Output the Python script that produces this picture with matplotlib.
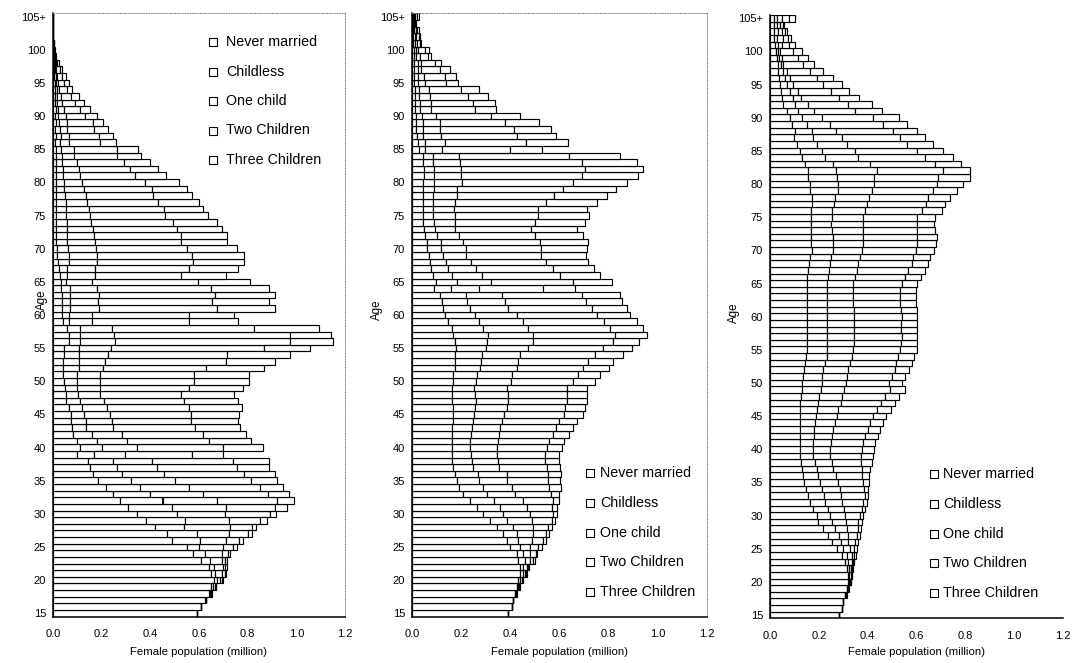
import matplotlib
matplotlib.use('Agg')
import matplotlib.pyplot as plt
from matplotlib.patches import Rectangle
import numpy as np

plt.rcParams['font.family'] = ['Liberation Sans', 'DejaVu Sans']

# ---------------- data ----------------
ages = list(range(15, 106))
categories = ['Never married', 'Childless', 'One child', 'Two Children', 'Three Children']
age_ticks = list(range(15, 106, 5))
age_tick_labels = [str(a) for a in age_ticks[:-1]] + ['105+']
x_ticks = [0.0, 0.2, 0.4, 0.6, 0.8, 1.0, 1.2]
x_tick_labels = ['0.0', '0.2', '0.4', '0.6', '0.8', '1.0', '1.2']
x_label = 'Female population (million)'
y_label = 'Age'

# Panel 1 (ages 15..105)
p1_never = [.59, .61, .625, .64, .65, .66, .65, .64, .61, .575,
            .55, .49, .467, .42, .382, .344, .31, .275, .245, .218,
            .186, .163, .152, .145, .10, .111, .097, .084, .077, .076,
            .072, .065, .054, .052, .049, .045, .042, .042, .042, .045,
            .045, .065, .065, .058, .04, .035, .035, .035, .035, .034,
            .031, .028, .024, .02, .018, .015, .014, .014, .014, .014,
            .014, .011, .014, .011, .014, .011, .011, .014, .011, .011,
            .011, .008, .011, .008, .011, .008, .011, .008, .008, .007,
            .007, .005, .004, .004, .003, .002, .001, .001, .001, .001,
            .001]
p1_childless = [0, 0, .005, .005, .007, .013, .015, .02, .035, .05,
                .05, .115, .126, .12, .16, .167, .178, .175, .154, .14,
                .133, .119, .11, .10, .07, .089, .082, .075, .06, .061,
                .054, .054, .059, .05, .05, .054, .057, .064, .064, .061,
                .061, .045, .044, .051, .025, .03, .034, .034, .034, .034,
                .021, .03, .034, .045, .047, .047, .044, .044, .042, .042,
                .04, .041, .038, .038, .033, .034, .031, .028, .027, .024,
                .02, .019, .02, .02, .013, .012, .009, .01, .01, .008,
                .005, .006, .004, .003, .002, .001, .001, 0, 0, 0,
                0]
p1_one = [0, 0, 0, .003, .007, .013, .03, .037, .048, .068,
          .10, .106, .132, .187, .183, .196, .223, .223, .216, .202,
          .182, .174, .164, .16, .126, .144, .126, .123, .108, .107,
          .109, .102, .095, .092, .095, .095, .095, .099, .108, .118,
          .133, .145, .142, .133, .095, .095, .118, .116, .118, .112,
          .108, .113, .116, .115, .115, .116, .113, .109, .108, .10,
          .099, .095, .088, .088, .079, .074, .067, .064, .061, .053,
          .054, .038, .034, .03, .034, .032, .025, .02, .013, .009,
          .008, .007, .006, .004, .002, .001, .001, 0, 0, 0,
          0]
p1_two = [0, 0, 0, .002, .004, .007, .01, .01, .014, .027,
          .04, .055, .078, .091, .124, .185, .201, .249, .27, .29,
          .311, .329, .329, .333, .274, .353, .337, .333, .339, .323,
          .332, .339, .332, .332, .366, .387, .387, .423, .496, .492,
          .627, .719, .723, .583, .40, .398, .488, .47, .479, .471,
          .434, .355, .386, .394, .391, .372, .355, .357, .345, .337,
          .308, .308, .291, .274, .282, .258, .227, .21, .194, .177,
          .177, .129, .126, .109, .106, .081, .068, .054, .044, .034,
          .025, .017, .013, .007, .003, .002, .001, 0, 0, 0,
          0]
p1_three = [0, 0, 0, .002, .002, .004, .005, .007, .009, .007,
            .015, .014, .013, .018, .029, .024, .051, .068, .086, .097,
            .11, .127, .134, .151, .127, .167, .17, .178, .186, .194,
            .197, .217, .221, .218, .22, .224, .224, .238, .203, .258,
            .19, .176, .17, .267, .20, .186, .238, .231, .247, .238,
            .217, .184, .201, .21, .213, .207, .19, .192, .187, .183,
            .178, .162, .167, .16, .143, .14, .127, .115, .107, .096,
            .088, .064, .057, .058, .04, .047, .04, .034, .031, .021,
            .02, .017, .011, .006, .003, .002, .001, .001, .001, 0,
            .001]

# Panel 2
p2_never = [.39, .405, .41, .419, .426, .433, .439, .439, .433, .426,
            .399, .385, .372, .344, .317, .29, .263, .236, .209, .192,
            .182, .175, .165, .161, .161, .161, .161, .161, .161, .165,
            .165, .165, .163, .161, .161, .168, .168, .175, .175, .175,
            .179, .175, .168, .161, .148, .134, .125, .121, .115, .088,
            .096, .085, .076, .072, .068, .062, .06, .053, .049, .046,
            .046, .043, .043, .043, .043, .043, .049, .049, .046, .046,
            .03, .024, .02, .018, .018, .018, .011, .011, .011, .011,
            .008, .008, .008, .008, .008, .008, .004, .004, .003, .002,
            .003]
p2_childless = [0, 0, .002, .001, .004, .006, .011, .014, .027, .027,
                .041, .048, .054, .068, .068, .082, .095, .098, .095, .095,
                .092, .095, .082, .082, .078, .075, .075, .078, .082, .082,
                .087, .091, .097, .095, .091, .092, .095, .102, .104, .108,
                .122, .131, .142, .129, .126, .122, .111, .101, .106, .072,
                .089, .079, .071, .068, .058, .057, .057, .05, .045, .045,
                .041, .044, .044, .044, .048, .048, .042, .042, .038, .038,
                .023, .028, .025, .027, .027, .024, .02, .02, .017, .017,
                .016, .016, .016, .016, .01, .007, .007, .007, .005, .003,
                .005]
p2_one = [0, 0, 0, .002, .004, .007, .01, .013, .02, .027,
          .04, .054, .067, .081, .102, .108, .108, .119, .115, .118,
          .114, .115, .108, .108, .108, .111, .115, .116, .115, .118,
          .122, .129, .132, .136, .136, .141, .142, .151, .154, .156,
          .172, .185, .184, .183, .179, .17, .156, .156, .147, .113,
          .135, .122, .115, .101, .095, .099, .092, .09, .081, .084,
          .088, .084, .088, .095, .093, .111, .107, .107, .111, .109,
          .068, .081, .074, .07, .068, .057, .048, .048, .044, .04,
          .028, .023, .014, .014, .013, .009, .009, .007, .007, .004,
          .006]
p2_two = [0, 0, 0, .002, .002, .004, .004, .007, .014, .024,
          .034, .044, .052, .062, .081, .092, .102, .119, .145, .154,
          .167, .17, .193, .19, .194, .201, .208, .22, .228, .234,
          .244, .237, .237, .237, .241, .255, .272, .266, .284, .305,
          .305, .325, .332, .332, .328, .325, .339, .33, .325, .26,
          .335, .315, .312, .303, .305, .308, .312, .307, .308, .325,
          .339, .343, .37, .396, .429, .452, .492, .506, .495, .447,
          .278, .332, .308, .299, .264, .224, .176, .169, .156, .132,
          .085, .086, .075, .054, .034, .028, .011, .01, .007, .005,
          .008]
p2_three = [0, 0, 0, .002, .002, .003, .002, .004, .006, .006,
            .013, .014, .014, .013, .014, .016, .023, .027, .035, .046,
            .047, .05, .054, .058, .058, .061, .059, .065, .068, .071,
            .076, .082, .084, .084, .084, .088, .088, .109, .102, .113,
            .118, .109, .131, .135, .133, .136, .144, .145, .152, .129,
            .16, .162, .166, .17, .182, .184, .196, .197, .19, .204,
            .207, .199, .209, .214, .217, .222, .23, .237, .224, .206,
            .131, .17, .16, .153, .139, .115, .088, .088, .081, .071,
            .05, .047, .04, .027, .011, .017, .007, .006, .006, .004,
            .006]

# Panel 3
p3_never = [.282, .293, .30, .307, .314, .318, .318, .314, .307, .293,
            .273, .252, .239, .218, .198, .191, .177, .164, .154, .146,
            .141, .136, .132, .127, .123, .123, .123, .123, .123, .123,
            .123, .123, .123, .127, .132, .132, .136, .141, .143, .146,
            .15, .15, .15, .15, .15, .15, .15, .15, .15, .15,
            .15, .15, .154, .16, .164, .171, .168, .168, .168, .168,
            .168, .168, .171, .171, .164, .164, .157, .154, .143, .132,
            .123, .109, .10, .102, .089, .082, .068, .055, .048, .045,
            .041, .037, .034, .031, .027, .023, .02, .018, .018, .015,
            .018]
p3_childless = [0, 0, 0, .002, .003, .005, .007, .009, .014, .021,
                .027, .039, .043, .048, .054, .055, .062, .061, .068, .068,
                .064, .059, .059, .057, .054, .054, .054, .058, .058, .061,
                .064, .068, .072, .074, .077, .079, .078, .077, .082, .086,
                .082, .082, .082, .082, .082, .082, .082, .082, .082, .082,
                .082, .089, .087, .086, .086, .088, .091, .091, .084, .082,
                .084, .087, .092, .095, .113, .113, .116, .115, .116, .093,
                .088, .082, .077, .069, .061, .048, .048, .047, .047, .037,
                .027, .024, .021, .014, .01, .008, .011, .009, .016, .012,
                .009]
p3_one = [0, 0, 0, .002, .002, .004, .005, .009, .013, .02,
          .027, .03, .039, .048, .058, .061, .065, .071, .069, .072,
          .075, .074, .068, .068, .069, .069, .073, .071, .078, .082,
          .086, .089, .096, .095, .095, .099, .10, .103, .102, .102,
          .109, .113, .113, .113, .113, .113, .113, .109, .109, .109,
          .109, .109, .114, .116, .118, .119, .123, .123, .13, .132,
          .13, .134, .133, .139, .139, .15, .154, .168, .15, .137,
          .137, .123, .116, .098, .096, .084, .065, .055, .032, .031,
          .027, .021, .013, .01, .011, .01, .017, .028, .014, .014,
          .021]
p3_two = [0, 0, 0, .002, .002, .003, .004, .005, .007, .011,
          .018, .027, .034, .045, .052, .061, .071, .086, .098, .10,
          .102, .106, .116, .12, .126, .129, .132, .137, .141, .143,
          .15, .157, .163, .177, .187, .177, .184, .191, .191, .191,
          .191, .191, .194, .191, .191, .194, .191, .191, .191, .191,
          .198, .205, .211, .218, .219, .22, .218, .218, .218, .218,
          .218, .232, .241, .243, .252, .259, .262, .272, .266, .272,
          .252, .249, .239, .233, .218, .209, .167, .164, .157, .137,
          .123, .109, .096, .081, .068, .054, .03, .02, .013, .014,
          .03]
p3_three = [0, 0, 0, .001, .002, .002, .003, .004, .004, .006,
            .01, .011, .013, .013, .013, .014, .014, .014, .011, .016,
            .023, .032, .034, .044, .051, .052, .05, .052, .05, .055,
            .054, .058, .058, .055, .062, .055, .055, .057, .062, .066,
            .068, .064, .061, .064, .064, .065, .068, .064, .064, .064,
            .061, .065, .068, .068, .068, .075, .078, .082, .075, .073,
            .075, .082, .079, .089, .096, .105, .13, .11, .109, .116,
            .109, .105, .102, .098, .099, .105, .109, .095, .082, .075,
            .075, .068, .054, .045, .038, .037, .024, .011, .007, .004,
            .024]

panels = [
    [p1_never, p1_childless, p1_one, p1_two, p1_three],
    [p2_never, p2_childless, p2_one, p2_two, p2_three],
    [p3_never, p3_childless, p3_one, p3_two, p3_three],
]

# ---------------- layout (pixels) ----------------
W, H = 1074, 663
fig = plt.figure(figsize=(W / 100, H / 100), dpi=100)

# (left, right, top, bottom) of each axes in pixels
boxes = [(53, 345, 13.4, 616.6), (412, 707, 13.4, 616.6), (770, 1063, 15.0, 618.3)]
frame_style = ['dotted', 'dotted', None]
legend_pos = [  # marker left x, text x, first row y, row step
    (209, 226, 42, 29.5),
    (586, 600, 473, 29.8),
    (930, 943, 474, 29.8),
]
age_label_pos = [(42, 300), (377, 310), (734, 313)]
xlabel_pad = [6, 6, 4.5]

for i, (l, r, t, b) in enumerate(boxes):
    ax = fig.add_axes([l / W, 1 - b / H, (r - l) / W, (b - t) / H])
    cum = np.zeros(len(ages))
    for series in panels[i]:
        vals = np.array(series, dtype=float)
        ax.barh(ages, vals, left=cum, height=1.0, color='white',
                edgecolor='black', linewidth=0.85)
        cum = cum + vals
    ax.set_xlim(0, 1.2)
    ax.set_ylim(14.5, 105.5)
    ax.set_xticks(x_ticks)
    ax.set_xticklabels(x_tick_labels, fontsize=8)
    ax.set_yticks(age_ticks)
    ax.set_yticklabels(age_tick_labels, fontsize=8)
    ax.tick_params(axis='x', length=0, pad=9)
    ax.tick_params(axis='y', length=0, pad=5)
    ax.set_xlabel(x_label, fontsize=8.2, labelpad=xlabel_pad[i])
    for s in ('left', 'bottom'):
        ax.spines[s].set_linewidth(1.1)
        ax.spines[s].set_color('black')
    for s in ('top', 'right'):
        if frame_style[i]:
            ax.spines[s].set_linestyle(':')
            ax.spines[s].set_linewidth(0.7)
            ax.spines[s].set_color('#888888')
        else:
            ax.spines[s].set_visible(False)
    ax.patch.set_alpha(0)

    # legend drawn as small outline squares with labels
    mx, tx, y0, dy = legend_pos[i]
    for k, name in enumerate(categories):
        yy = y0 + k * dy
        fig.add_artist(Rectangle((mx / W, 1 - (yy + 4) / H), 8 / W, 8 / H,
                                 transform=fig.transFigure, fill=False,
                                 edgecolor='black', linewidth=0.8))
        fig.text(tx / W, 1 - yy / H, name, fontsize=10.3, va='center', ha='left')

    ax_x, ax_y = age_label_pos[i]
    fig.text(ax_x / W, 1 - ax_y / H, y_label, fontsize=8.3, rotation=90,
             va='center', ha='center')

fig.savefig('out.png', dpi=100, facecolor='white')
